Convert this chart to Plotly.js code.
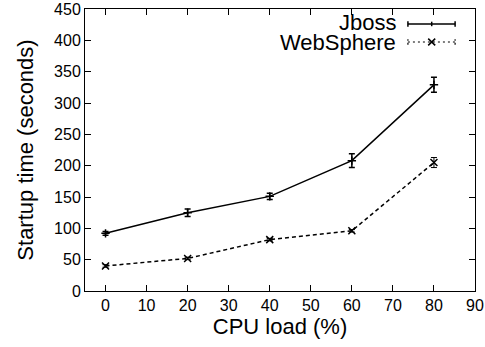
<!DOCTYPE html>
<html><head><meta charset="utf-8">
<script src="https://cdn.plot.ly/plotly-3.0.1.min.js"></script>
<style>html,body{margin:0;padding:0;background:#fff}#c{width:485px;height:347px}</style>
</head><body><div id="c"></div>
<script>
const cpuLoad = [0, 20, 40, 60, 80];
const jbossTime = [92, 125, 151, 208, 329];
const jbossErr = [3, 6, 5, 11, 12];
const wsTime = [40, 52, 82, 96, 205];
const wsErr = [2, 2, 2, 2, 8];
const seriesNames = ['Jboss', 'WebSphere'];
const xTicks = [0, 10, 20, 30, 40, 50, 60, 70, 80, 90];
const yTicks = [0, 50, 100, 150, 200, 250, 300, 350, 400, 450];

const font = 'Liberation Sans, Arial, sans-serif';
const traces = [
  {x: cpuLoad, y: jbossTime, name: seriesNames[0], mode: 'lines+markers', type: 'scatter',
   line: {color: '#000', width: 1.5},
   marker: {symbol: 'cross-thin-open', size: 6, color: '#000', line: {width: 1.5, color: '#000'}},
   error_y: {type: 'data', array: jbossErr, visible: true, color: '#000', thickness: 1.5, width: 3},
   showlegend: false},
  {x: cpuLoad, y: wsTime, name: seriesNames[1], mode: 'lines+markers', type: 'scatter',
   line: {color: '#000', width: 1.5, dash: '4px,3px'},
   marker: {symbol: 'x-thin-open', size: 7, color: '#000', line: {width: 1.5, color: '#000'}},
   error_y: {type: 'data', array: wsErr, visible: true, color: '#000', thickness: 1, width: 3},
   showlegend: false}
];

const shapes = [
  // Jboss key
  {type: 'line', xref: 'paper', yref: 'paper', x0: 0.828, x1: 0.949, y0: 0.947, y1: 0.947, line: {color: '#000', width: 1.5}},
  {type: 'line', xref: 'paper', yref: 'paper', x0: 0.828, x1: 0.828, y0: 0.937, y1: 0.957, line: {color: '#000', width: 1.5}},
  {type: 'line', xref: 'paper', yref: 'paper', x0: 0.949, x1: 0.949, y0: 0.937, y1: 0.957, line: {color: '#000', width: 1.5}},
  {type: 'line', xref: 'paper', yref: 'paper', x0: 0.889, x1: 0.889, y0: 0.939, y1: 0.955, line: {color: '#000', width: 1.5}},
  // WebSphere key
  {type: 'line', xref: 'paper', yref: 'paper', x0: 0.828, x1: 0.949, y0: 0.883, y1: 0.883, line: {color: '#000', width: 1.2, dash: '2px,3px'}},
  {type: 'line', xref: 'paper', yref: 'paper', x0: 0.828, x1: 0.828, y0: 0.873, y1: 0.893, line: {color: '#000', width: 1.2, dash: '2px,2px'}},
  {type: 'line', xref: 'paper', yref: 'paper', x0: 0.949, x1: 0.949, y0: 0.873, y1: 0.893, line: {color: '#000', width: 1.2, dash: '2px,2px'}},
  {type: 'line', xref: 'paper', yref: 'paper', x0: 0.880, x1: 0.898, y0: 0.871, y1: 0.895, line: {color: '#000', width: 1.5}},
  {type: 'line', xref: 'paper', yref: 'paper', x0: 0.880, x1: 0.898, y0: 0.895, y1: 0.871, line: {color: '#000', width: 1.5}}
];

const annotations = [
  {xref: 'paper', yref: 'paper', x: 0.803, y: 0.953, xanchor: 'right', yanchor: 'middle', text: seriesNames[0], showarrow: false, font: {family: font, size: 22, color: '#000'}},
  {xref: 'paper', yref: 'paper', x: 0.803, y: 0.882, xanchor: 'right', yanchor: 'middle', text: seriesNames[1], showarrow: false, font: {family: font, size: 22, color: '#000'}}
];

const layout = {
  width: 485, height: 347,
  margin: {l: 85, r: 10, t: 9, b: 56},
  paper_bgcolor: '#fff', plot_bgcolor: '#fff',
  font: {family: font, color: '#000'},
  showlegend: false,
  xaxis: {range: [-5, 90], tickvals: xTicks, ticks: 'inside', ticklen: 6, tickcolor: '#000',
    showline: true, linecolor: '#000', linewidth: 1, mirror: 'allticks', showgrid: false, zeroline: false,
    tickfont: {size: 16, family: font}, title: {text: 'CPU load (%)', font: {size: 22, family: font}, standoff: 5}},
  yaxis: {range: [0, 450], tickvals: yTicks, ticks: 'inside', ticklen: 6, tickcolor: '#000',
    showline: true, linecolor: '#000', linewidth: 1, mirror: 'allticks', showgrid: false, zeroline: false,
    tickfont: {size: 16, family: font}, title: {text: 'Startup time (seconds)', font: {size: 22, family: font}, standoff: 14}},
  shapes: shapes, annotations: annotations
};
Plotly.newPlot('c', traces, layout, {displayModeBar: false, staticPlot: true});
</script></body></html>
